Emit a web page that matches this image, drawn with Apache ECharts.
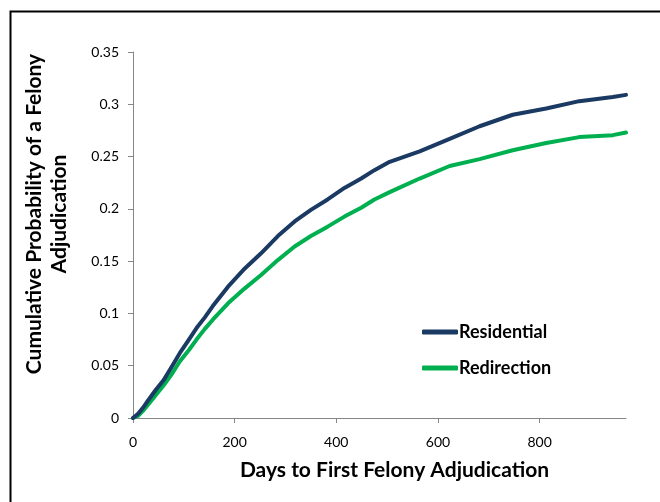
<!DOCTYPE html>
<html>
<head>
<meta charset="utf-8">
<script src="https://cdn.jsdelivr.net/npm/echarts@6/dist/echarts.min.js"></script>
<style>
html,body{margin:0;padding:0;background:#fff;}
#chart{width:660px;height:502px;}
</style>
</head>
<body>
<div id="chart"></div>
<script>
var days = [0, 10, 20, 30, 45, 60, 75, 92, 110, 125, 141, 157, 187, 220, 252, 285, 318, 350, 383, 416, 449, 475, 505, 564, 623, 682, 747, 813, 878, 944, 970];
var residential = [0, 0.004, 0.010, 0.017, 0.027, 0.036, 0.048, 0.062, 0.075, 0.086, 0.096, 0.107, 0.1256, 0.143, 0.1575, 0.174, 0.188, 0.199, 0.209, 0.220, 0.229, 0.237, 0.245, 0.255, 0.267, 0.279, 0.290, 0.296, 0.303, 0.307, 0.309];
var redirection = [0, 0.002, 0.007, 0.013, 0.022, 0.031, 0.041, 0.054, 0.065, 0.075, 0.085, 0.094, 0.1097, 0.124, 0.1368, 0.151, 0.164, 0.174, 0.183, 0.1926, 0.201, 0.209, 0.216, 0.229, 0.241, 0.2476, 0.256, 0.263, 0.2686, 0.2705, 0.273];
var xTicks = [0, 200, 400, 600, 800];
var seriesNames = ['Residential', 'Redirection'];
var xTitle = 'Days to First Felony Adjudication';
var yTitleLines = ['Cumulative Probability of a Felony', 'Adjudication'];

function pairs(xs, ys) { return xs.map(function (x, i) { return [x, ys[i]]; }); }

var chart = echarts.init(document.getElementById('chart'), null, {renderer: 'canvas'});
var font = 'Lato';
chart.setOption({
  animation: false,
  backgroundColor: '#ffffff',
  textStyle: {fontFamily: font},
  grid: {left: 133, right: 34, top: 52, bottom: 84, containLabel: false},
  legend: {
    orient: 'vertical',
    left: 417, top: 318,
    itemGap: 18,
    itemWidth: 36, itemHeight: 5,
    icon: 'roundRect',
    data: seriesNames,
    textStyle: {fontFamily: font, fontSize: 18, fontWeight: 'bold', color: '#000', padding: [0, 0, 0, -4]}
  },
  xAxis: {
    type: 'value', min: 0, max: 970, interval: 200,
    name: xTitle, nameLocation: 'middle', nameGap: 42,
    nameTextStyle: {fontFamily: font, fontSize: 21, fontWeight: 'bold', color: '#000', padding: [0, 0, 0, 30]},
    axisLine: {show: true, lineStyle: {color: '#868686', width: 1}},
    axisTick: {show: true, length: 5, lineStyle: {color: '#868686'}, customValues: xTicks},
    axisLabel: {fontFamily: font, fontSize: 14, color: '#000', margin: 17, customValues: xTicks},
    splitLine: {show: false}
  },
  yAxis: {
    type: 'value', min: 0, max: 0.35, interval: 0.05,
    axisLine: {show: true, lineStyle: {color: '#868686', width: 1}},
    axisTick: {show: true, length: 5, lineStyle: {color: '#868686'}},
    axisLabel: {fontFamily: font, fontSize: 14, color: '#000', margin: 14},
    splitLine: {show: false}
  },
  graphic: [
    {type: 'rect', left: 8, top: 9, shape: {x: 0, y: 0, width: 700, height: 600},
     style: {fill: 'none', stroke: '#000', lineWidth: 2}, silent: true, z: -1},
    {type: 'text', x: 47, y: 214, rotation: Math.PI / 2,
     style: {text: yTitleLines.join('\n'), fontFamily: font, fontSize: 21, fontWeight: 'bold', fill: '#000',
             align: 'center', verticalAlign: 'middle', lineHeight: 25}}
  ],
  series: [
    {name: seriesNames[0], type: 'line', data: pairs(days, residential), showSymbol: false, symbol: 'none',
     lineStyle: {color: '#1B3A63', width: 4, cap: 'round', join: 'round'}, itemStyle: {color: '#1B3A63'}, z: 3},
    {name: seriesNames[1], type: 'line', data: pairs(days, redirection), showSymbol: false, symbol: 'none',
     lineStyle: {color: '#00B050', width: 4, cap: 'round', join: 'round'}, itemStyle: {color: '#00B050'}, z: 2}
  ]
});
</script>
</body>
</html>
